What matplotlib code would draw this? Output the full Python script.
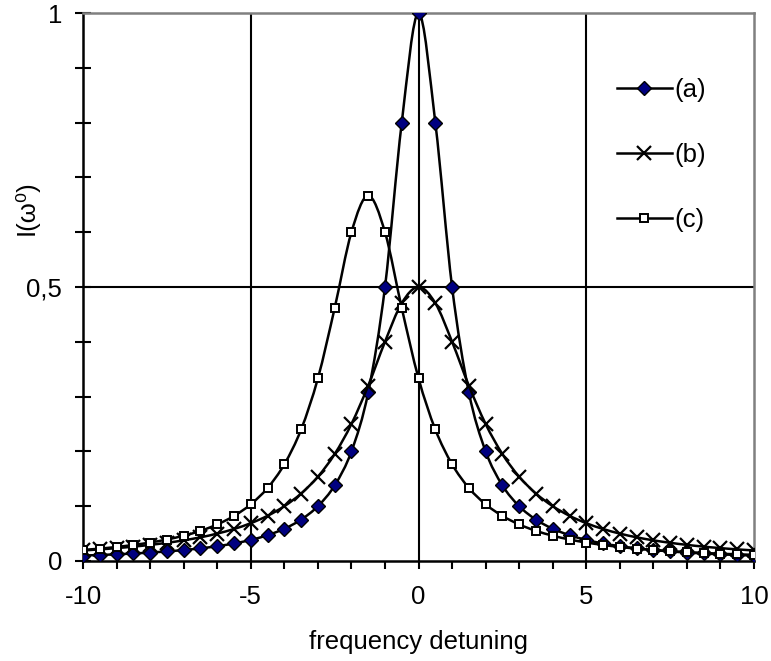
import numpy as np
import matplotlib
matplotlib.use("Agg")
import matplotlib.pyplot as plt
from matplotlib.ticker import MultipleLocator
from matplotlib.path import Path
from matplotlib.patches import PathPatch
from matplotlib.lines import Line2D

plt.rcParams['font.family'] = ['Liberation Sans', 'DejaVu Sans']

# frequency detuning grid
x = [-10, -9.5, -9, -8.5, -8, -7.5, -7, -6.5, -6, -5.5, -5, -4.5, -4, -3.5, -3, -2.5, -2, -1.5, -1, -0.5,
     0, 0.5, 1, 1.5, 2, 2.5, 3, 3.5, 4, 4.5, 5, 5.5, 6, 6.5, 7, 7.5, 8, 8.5, 9, 9.5, 10]

# series (a)
ya = [0.0099, 0.0110, 0.0122, 0.0137, 0.0154, 0.0175, 0.0200, 0.0231, 0.0270, 0.0320, 0.0385, 0.0471,
      0.0588, 0.0755, 0.1000, 0.1379, 0.2000, 0.3077, 0.5000, 0.8000,
      1.0000,
      0.8000, 0.5000, 0.3077, 0.2000, 0.1379, 0.1000, 0.0755, 0.0588, 0.0471, 0.0385, 0.0320, 0.0270,
      0.0231, 0.0200, 0.0175, 0.0154, 0.0137, 0.0122, 0.0110, 0.0099]

# series (b)
yb = [0.0192, 0.0212, 0.0235, 0.0262, 0.0294, 0.0332, 0.0377, 0.0432, 0.0500, 0.0584, 0.0690, 0.0825,
      0.1000, 0.1231, 0.1538, 0.1951, 0.2500, 0.3200, 0.4000, 0.4706,
      0.5000,
      0.4706, 0.4000, 0.3200, 0.2500, 0.1951, 0.1538, 0.1231, 0.1000, 0.0825, 0.0690, 0.0584, 0.0500,
      0.0432, 0.0377, 0.0332, 0.0294, 0.0262, 0.0235, 0.0212, 0.0192]

# series (c)
yc = [0.0201, 0.0226, 0.0256, 0.0293, 0.0337, 0.0392, 0.0462, 0.0550, 0.0667, 0.0822, 0.1034, 0.1333,
      0.1765, 0.2400, 0.3333, 0.4615, 0.6000, 0.6667, 0.6000, 0.4615,
      0.3333,
      0.2400, 0.1765, 0.1333, 0.1034, 0.0822, 0.0667, 0.0550, 0.0462, 0.0392, 0.0337, 0.0293, 0.0256,
      0.0226, 0.0201, 0.0180, 0.0162, 0.0147, 0.0133, 0.0122, 0.0112]

labels = ['(a)', '(b)', '(c)']

fs = 18.5


def smooth_path(xs, ys):
    # Excel-style smoothed line: bezier segments through the data points
    p = np.column_stack([xs, ys])
    verts = [p[0]]
    codes = [Path.MOVETO]
    n = len(p)
    for i in range(n - 1):
        p0 = p[i - 1] if i > 0 else p[i]
        p3 = p[i + 2] if i + 2 < n else p[i + 1]
        c1 = p[i] + (p[i + 1] - p0) / 6
        c2 = p[i + 1] - (p3 - p[i]) / 6
        verts += [c1, c2, p[i + 1]]
        codes += [Path.CURVE4] * 3
    return Path(verts, codes)


fig = plt.figure(figsize=(7.71, 6.61), dpi=100)
ax = fig.add_axes([0.1077, 0.1513, 0.8703, 0.829])

# grid lines
for gx in [-5, 0, 5]:
    ax.axvline(gx, color='black', lw=1.5, zorder=1)
ax.axhline(0.5, color='black', lw=1.5, zorder=1)

styles = [
    dict(marker='D', markersize=7.2, markerfacecolor='#000080', markeredgecolor='black', markeredgewidth=1),
    dict(marker='x', markersize=10, markeredgecolor='black', markeredgewidth=1.6),
    dict(marker='s', markersize=6.2, markerfacecolor='white', markeredgecolor='black', markeredgewidth=1.4),
]

handles = []
for k, (ys, lab, st) in enumerate(zip([ya, yb, yc], labels, styles)):
    ax.add_patch(PathPatch(smooth_path(x, ys), facecolor='none', edgecolor='black',
                           lw=1.8, zorder=3 + k))
    ax.plot(x, ys, ls='none', zorder=3.5 + k, **st)
    handles.append(Line2D([], [], color='black', lw=1.8, label=lab, **st))

ax.set_xlim(-10, 10)
ax.set_ylim(0, 1)

ax.xaxis.set_minor_locator(MultipleLocator(1))
ax.yaxis.set_minor_locator(MultipleLocator(0.1))
ax.set_yticks([0, 0.5, 1])
ax.set_yticklabels(['0', '0,5', '1'])
ax.set_xticks([-10, -5, 0, 5, 10])
ax.set_xticklabels(['-10', '-5', '0', '5', '10'])

ax.tick_params(axis='y', which='both', direction='inout', length=11, width=1.5, labelsize=fs, pad=9.5)
ax.tick_params(axis='x', which='both', direction='out', length=5.5, width=1.5, labelsize=fs, pad=12)

for s in ['left', 'bottom']:
    ax.spines[s].set_color('black')
    ax.spines[s].set_linewidth(1.8)
for s in ['top', 'right']:
    ax.spines[s].set_color('#808080')
    ax.spines[s].set_linewidth(1.8)

ax.set_xlabel('frequency detuning', fontsize=fs, labelpad=15)
ax.set_ylabel('I(ω⁰)', fontsize=fs)
ax.yaxis.set_label_coords(-0.066, 0.644)

ax.legend(handles=handles, loc='upper left', bbox_to_anchor=(0.78, 0.9), frameon=False, fontsize=fs,
          handlelength=2.15, handletextpad=0.1, labelspacing=1.6, borderaxespad=0)

fig.savefig('out.png', dpi=100)
